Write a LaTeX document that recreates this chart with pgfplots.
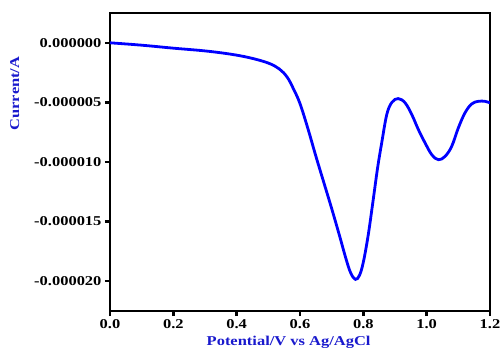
\documentclass[border=0pt]{standalone}
\usepackage{fontspec}
\setmainfont{Liberation Serif}[FakeStretch=1.22]
\usepackage{pgfplots}
\pgfplotsset{compat=1.18}
\definecolor{lblue}{RGB}{25,25,205}
\begin{document}
\begin{tikzpicture}
\begin{axis}[
  scale only axis,
  width=380pt, height=298pt,
  xmin=0, xmax=1.2, ymin=-22.5e-6, ymax=2.5e-6,
  scaled y ticks=false, scaled x ticks=false,
  xtick={0,0.2,0.4,0.6,0.8,1.0,1.2},
  ytick={-20e-6,-15e-6,-10e-6,-5e-6,0},
  xticklabels={0.0,0.2,0.4,0.6,0.8,1.0,1.2},
  yticklabels={-0.000020,-0.000015,-0.000010,-0.000005,0.000000},
  /pgf/number format/assume math mode=true,
  xtick pos=left, ytick pos=left, tick align=outside,
  major tick length=5pt,
  axis line style={line width=2.8pt},
  every tick/.style={line width=2.5pt, black},
  tick label style={font=\fontsize{13.5}{15}\selectfont\bfseries},
  xlabel={Potential/V vs Ag/AgCl},
  ylabel={Current/A},
  label style={font=\fontsize{13.5}{15}\selectfont\bfseries, text=lblue},
  xlabel style={at={(ticklabel cs:0.47)}, anchor=north, yshift=-1pt},
  ylabel style={at={(ticklabel cs:0.73)}, anchor=south, yshift=8pt},
  clip=true,
]
\addplot[blue, line width=2.8pt, smooth, tension=0.6] coordinates {
(0.000,0.00e-6)
(0.100,-0.20e-6)
(0.200,-0.45e-6)
(0.300,-0.68e-6)
(0.380,-0.95e-6)
(0.442,-1.26e-6)
(0.500,-1.70e-6)
(0.535,-2.20e-6)
(0.560,-2.90e-6)
(0.580,-3.90e-6)
(0.600,-5.10e-6)
(0.625,-7.20e-6)
(0.650,-9.50e-6)
(0.675,-11.70e-6)
(0.700,-13.90e-6)
(0.725,-16.20e-6)
(0.745,-18.10e-6)
(0.760,-19.30e-6)
(0.775,-19.85e-6)
(0.788,-19.50e-6)
(0.800,-18.40e-6)
(0.815,-16.20e-6)
(0.830,-13.40e-6)
(0.845,-10.50e-6)
(0.858,-8.40e-6)
(0.874,-6.02e-6)
(0.890,-5.00e-6)
(0.910,-4.68e-6)
(0.932,-5.04e-6)
(0.953,-6.02e-6)
(0.974,-7.29e-6)
(0.995,-8.40e-6)
(1.016,-9.38e-6)
(1.037,-9.81e-6)
(1.058,-9.53e-6)
(1.079,-8.69e-6)
(1.100,-7.14e-6)
(1.121,-5.88e-6)
(1.142,-5.13e-6)
(1.163,-4.91e-6)
(1.184,-4.91e-6)
(1.200,-5.04e-6)
};
\end{axis}
\pgfresetboundingbox
\useasboundingbox (-110pt,-51pt) rectangle (394pt,311pt);
\end{tikzpicture}
\end{document}
